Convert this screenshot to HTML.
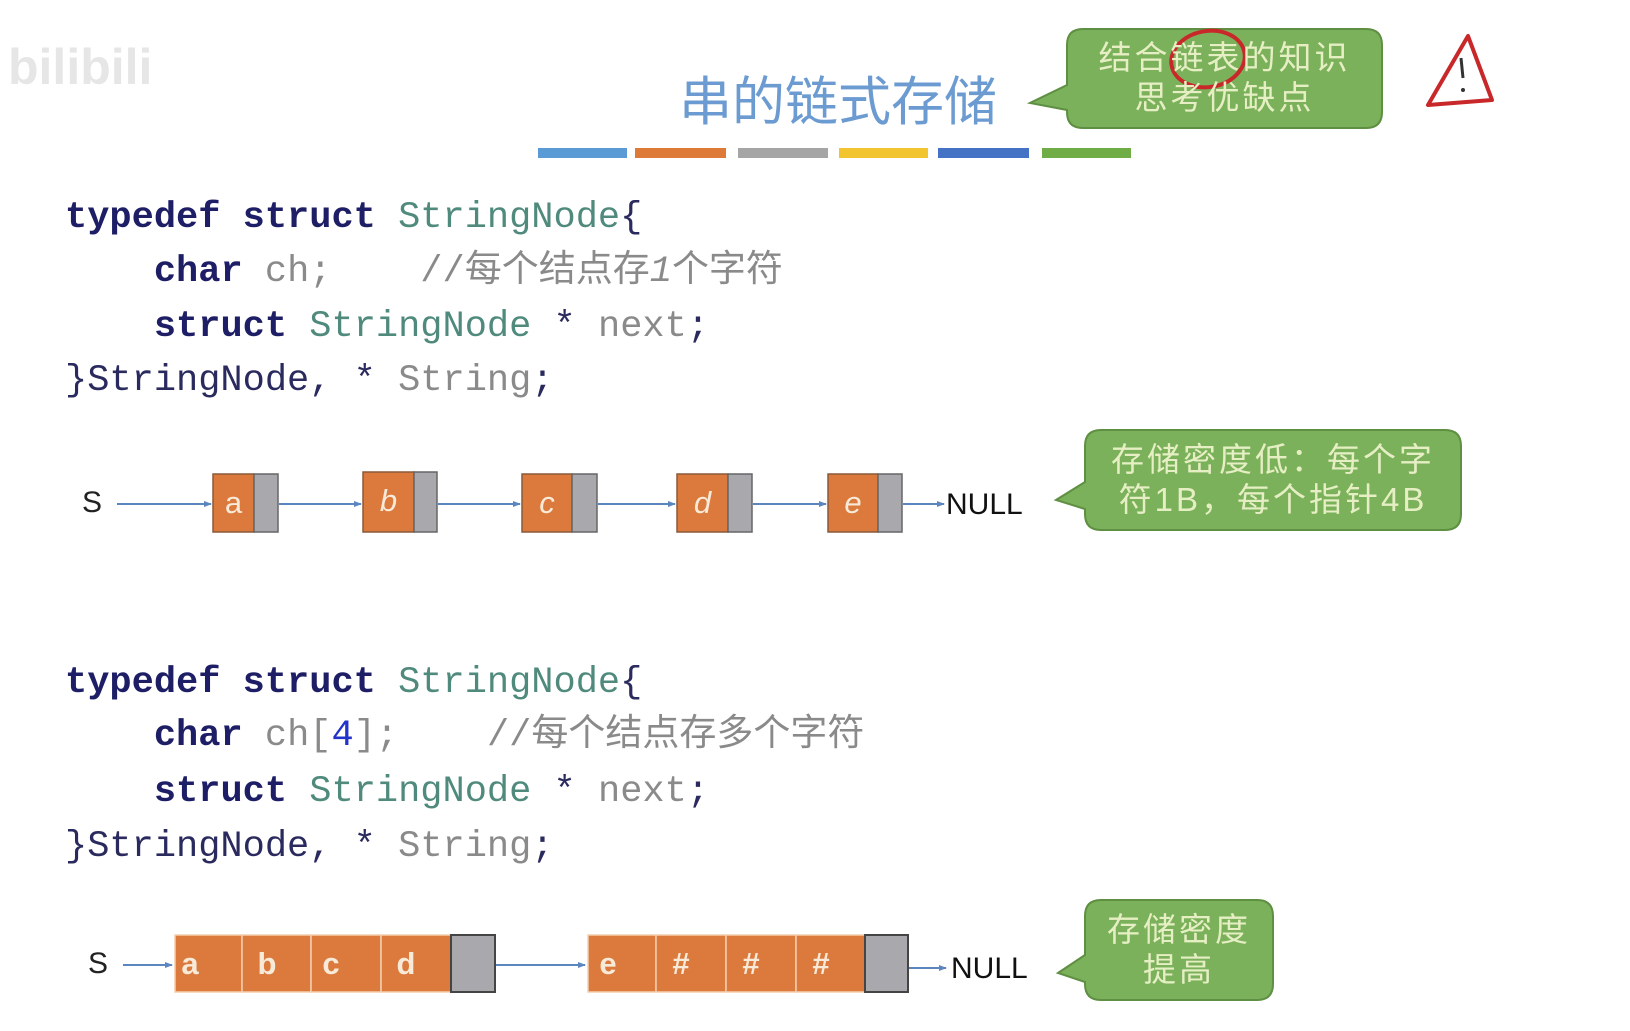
<!DOCTYPE html>
<html><head><meta charset="utf-8"><style>
body{margin:0;width:1630px;height:1031px;background:#fff;position:relative;overflow:hidden;font-family:"Liberation Sans","Noto Sans CJK SC",sans-serif}
.a{position:absolute;white-space:pre}
.code{font-family:"Liberation Mono","Noto Sans CJK SC",monospace;font-size:37px;line-height:1}
.k{color:#1e1e66;font-weight:bold}
.t{color:#4f8a7c}
.g{color:#8a8a8a}
.n{color:#2a2a5e}
.bt{font-family:"Liberation Sans","Noto Sans CJK SC",sans-serif;color:#e6efc4;font-size:33px;text-align:center;line-height:40px;letter-spacing:3px}
.lt{color:#f7ead9;font-size:31px;position:absolute;text-align:center}
</style></head><body>
<div class="a" style="left:8px;top:38px;font-size:50px;color:#e6e6e6;font-weight:bold">bilibili</div>
<div class="a" style="left:679px;top:60px;font-size:53px;color:#6b9bd0">串的链式存储</div>
<svg class="a" style="left:0;top:0" width="1630" height="1031">
<defs><marker id="ar" markerWidth="8" markerHeight="6" refX="7" refY="3" orient="auto" markerUnits="userSpaceOnUse"><path d="M0,0 L8,3 L0,6 z" fill="#5b86c0"/></marker></defs>
<g>
<rect x="538" y="148" width="89" height="10" fill="#5b9bd5"/><rect x="635" y="148" width="91" height="10" fill="#dd7a38"/><rect x="738" y="148" width="90" height="10" fill="#a5a5a5"/><rect x="839" y="148" width="89" height="10" fill="#f2c530"/><rect x="938" y="148" width="91" height="10" fill="#4472c4"/><rect x="1042" y="148" width="89" height="10" fill="#70ad47"/>
</g>
<path d="M1083,29 H1366 Q1382,29 1382,45 V112 Q1382,128 1366,128 H1083 Q1067,128 1067,112 V110 L1030,103 L1067,85 V45 Q1067,29 1083,29 Z" fill="#7bb15a" stroke="#5e8f42" stroke-width="2"/>
<path d="M1101,430 H1445 Q1461,430 1461,446 V514 Q1461,530 1445,530 H1101 Q1085,530 1085,514 V509 L1056,500 L1085,482 V446 Q1085,430 1101,430 Z" fill="#7bb15a" stroke="#5e8f42" stroke-width="2"/>
<path d="M1101,900 H1257 Q1273,900 1273,916 V984 Q1273,1000 1257,1000 H1101 Q1085,1000 1085,984 V982 L1058,973 L1085,955 V916 Q1085,900 1101,900 Z" fill="#7bb15a" stroke="#5e8f42" stroke-width="2"/>
<ellipse cx="1208" cy="59" rx="37" ry="28" fill="none" stroke="#c8282a" stroke-width="4" transform="rotate(-10 1208 59)"/>
<path d="M1468,36 L1428,105 L1492,100 Z" fill="none" stroke="#c8282a" stroke-width="4" stroke-linejoin="round"/>
<line x1="1461" y1="58" x2="1463" y2="78" stroke="#333" stroke-width="3"/><circle cx="1463" cy="90" r="2" fill="#333"/>
<g stroke="#5b86c0" stroke-width="2" marker-end="url(#ar)">
<line x1="117" y1="504" x2="211" y2="504"/><line x1="279" y1="504" x2="361" y2="504"/><line x1="438" y1="504" x2="520" y2="504"/><line x1="598" y1="504" x2="675" y2="504"/><line x1="753" y1="504" x2="826" y2="504"/><line x1="903" y1="504" x2="944" y2="504"/>
<line x1="123" y1="965" x2="172" y2="965"/><line x1="496" y1="965" x2="585" y2="965"/><line x1="909" y1="968" x2="946" y2="968"/>
</g>
<g fill="#db7a3c" stroke="#8a5a3a" stroke-width="1.5">
<rect x="213" y="474" width="41" height="58"/><rect x="363" y="472" width="51" height="60"/><rect x="522" y="474" width="50" height="58"/><rect x="677" y="474" width="51" height="58"/><rect x="828" y="474" width="50" height="58"/>
</g>
<g fill="#a9a9ad" stroke="#666" stroke-width="1.5">
<rect x="254" y="474" width="24" height="58"/><rect x="414" y="472" width="23" height="60"/><rect x="572" y="474" width="25" height="58"/><rect x="728" y="474" width="24" height="58"/><rect x="878" y="474" width="24" height="58"/>
</g>
<g fill="#db7a3c" stroke="#f3cfae" stroke-width="1.5">
<rect x="175" y="935" width="67" height="57"/><rect x="242" y="935" width="69" height="57"/><rect x="311" y="935" width="70" height="57"/><rect x="381" y="935" width="70" height="57"/>
<rect x="588" y="935" width="68" height="57"/><rect x="656" y="935" width="70" height="57"/><rect x="726" y="935" width="70" height="57"/><rect x="796" y="935" width="69" height="57"/>
</g>
<g fill="#a9a9ad" stroke="#444" stroke-width="2"><rect x="451" y="935" width="44" height="57"/><rect x="865" y="935" width="43" height="57"/></g>
</svg>
<div class="a bt" style="left:1067px;top:38px;width:315px">结合链表的知识<br>思考优缺点</div>
<div class="a bt" style="left:1085px;top:440px;width:376px">存储密度低：每个字<br>符1B，每个指针4B</div>
<div class="a bt" style="left:1085px;top:910px;width:188px">存储密度<br>提高</div>

<div class="a code" style="left:65px;top:200px"><span class="k">typedef struct</span> <span class="t">StringNode</span><span class="n">{</span></div>
<div class="a code" style="left:65px;top:254px">    <span class="k">char</span> <span class="g">ch;    //每个结点存<i>1</i>个字符</span></div>
<div class="a code" style="left:65px;top:309px">    <span class="k">struct</span> <span class="t">StringNode</span> <span class="n">*</span> <span class="g">next</span><span class="n">;</span></div>
<div class="a code" style="left:65px;top:363px"><span class="n">}StringNode,</span> <span class="n">*</span> <span class="g">String</span><span class="n">;</span></div>

<div class="a code" style="left:65px;top:665px"><span class="k">typedef struct</span> <span class="t">StringNode</span><span class="n">{</span></div>
<div class="a code" style="left:65px;top:718px">    <span class="k">char</span> <span class="g">ch[<span style="color:#2233cc">4</span>];    //每个结点存多个字符</span></div>
<div class="a code" style="left:65px;top:774px">    <span class="k">struct</span> <span class="t">StringNode</span> <span class="n">*</span> <span class="g">next</span><span class="n">;</span></div>
<div class="a code" style="left:65px;top:829px"><span class="n">}StringNode,</span> <span class="n">*</span> <span class="g">String</span><span class="n">;</span></div>

<div class="a" style="left:82px;top:486px;font-size:30px;color:#222">S</div>
<div class="a" style="left:946px;top:488px;font-size:30px;color:#111">NULL</div>
<div class="lt" style="left:213px;top:485px;width:41px">a</div>
<div class="lt" style="left:363px;top:483px;width:51px;font-style:italic">b</div>
<div class="lt" style="left:522px;top:485px;width:50px;font-style:italic">c</div>
<div class="lt" style="left:677px;top:485px;width:51px;font-style:italic">d</div>
<div class="lt" style="left:828px;top:485px;width:50px;font-style:italic">e</div>

<div class="a" style="left:88px;top:947px;font-size:30px;color:#222">S</div>
<div class="a" style="left:951px;top:952px;font-size:30px;color:#111">NULL</div>
<div class="lt" style="left:175px;top:946px;width:30px;font-weight:bold">a</div>
<div class="lt" style="left:242px;top:946px;width:50px;font-weight:bold">b</div>
<div class="lt" style="left:311px;top:946px;width:40px;font-weight:bold">c</div>
<div class="lt" style="left:381px;top:946px;width:50px;font-weight:bold">d</div>
<div class="lt" style="left:588px;top:946px;width:40px;font-weight:bold">e</div>
<div class="lt" style="left:656px;top:946px;width:50px;font-weight:bold">#</div>
<div class="lt" style="left:726px;top:946px;width:50px;font-weight:bold">#</div>
<div class="lt" style="left:796px;top:946px;width:50px;font-weight:bold">#</div>
</body></html>
